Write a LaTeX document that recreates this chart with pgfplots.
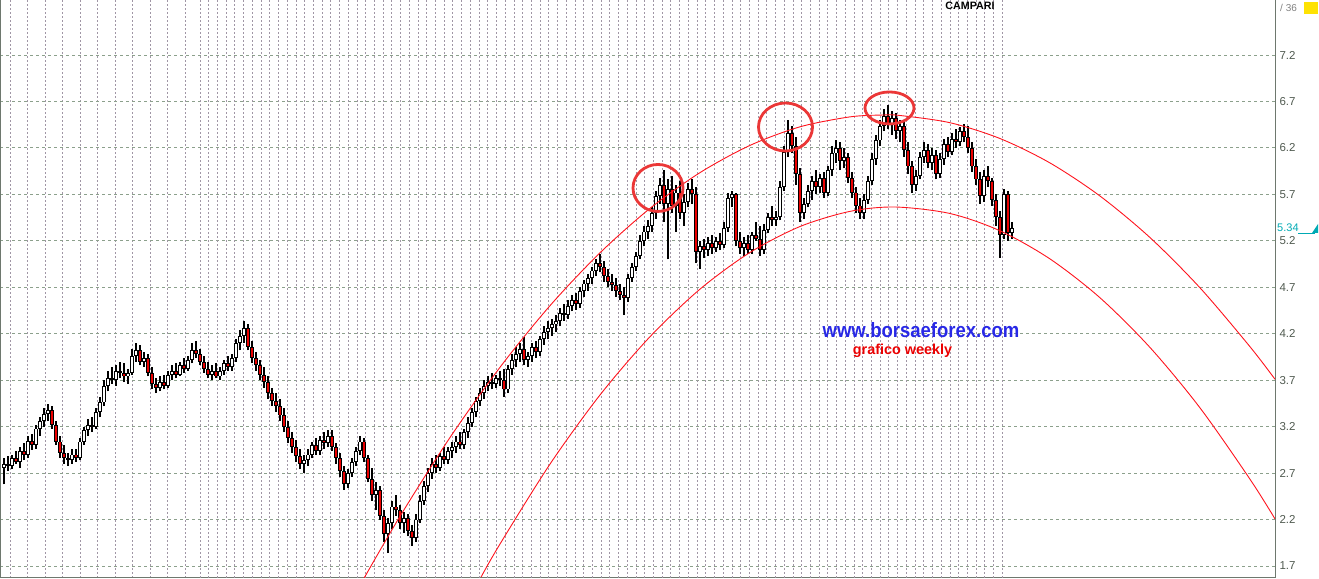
\documentclass[border=0pt]{standalone}
\usepackage{pgfplots}
\pgfplotsset{compat=1.18}
\usepackage{pgfplotstable}
\usepackage{fontspec}
\setmainfont{Liberation Sans}
\definecolor{gridg}{RGB}{140,160,140}
\definecolor{gridv}{RGB}{160,150,165}
\definecolor{cred}{RGB}{235,0,0}
\definecolor{arcred}{RGB}{255,20,30}
\definecolor{circred}{RGB}{235,55,55}
\definecolor{wblue}{RGB}{40,40,230}
\definecolor{teal2}{RGB}{0,170,180}
\definecolor{lab}{RGB}{80,90,80}
\definecolor{frame}{RGB}{110,120,110}

\pgfplotstableread{
x o h l c
4 2.76 2.86 2.58 2.80
8 2.80 2.88 2.72 2.78
12 2.78 2.90 2.74 2.86
16 2.86 2.94 2.80 2.82
20 2.82 2.98 2.76 2.94
24 2.94 3.02 2.84 2.90
28 2.90 3.10 2.86 3.05
32 3.05 3.12 2.95 3.00
36 3.00 3.22 2.96 3.18
40 3.18 3.30 3.10 3.26
44 3.26 3.40 3.20 3.34
48 3.34 3.44 3.26 3.38
52 3.38 3.42 3.18 3.22
56 3.22 3.26 3.00 3.04
60 3.04 3.10 2.86 2.92
64 2.92 3.00 2.80 2.86
68 2.86 2.92 2.78 2.84
72 2.84 2.96 2.80 2.90
76 2.90 2.96 2.82 2.86
80 2.86 3.08 2.84 3.04
84 3.04 3.20 3.00 3.16
88 3.16 3.28 3.10 3.22
92 3.22 3.30 3.14 3.20
96 3.20 3.40 3.18 3.36
100 3.36 3.52 3.30 3.46
104 3.46 3.70 3.42 3.64
108 3.64 3.80 3.58 3.72
112 3.72 3.84 3.66 3.70
116 3.70 3.86 3.64 3.80
120 3.80 3.90 3.72 3.78
124 3.78 3.88 3.68 3.74
128 3.74 3.82 3.66 3.78
132 3.78 4.04 3.76 3.96
136 3.96 4.10 3.90 4.02
140 4.02 4.08 3.86 3.90
144 3.90 4.00 3.84 3.94
148 3.94 3.98 3.74 3.78
152 3.78 3.84 3.60 3.66
156 3.66 3.72 3.56 3.62
160 3.62 3.74 3.58 3.68
164 3.68 3.76 3.60 3.64
168 3.64 3.80 3.62 3.76
172 3.76 3.86 3.70 3.80
176 3.80 3.88 3.72 3.76
180 3.76 3.90 3.74 3.86
184 3.86 3.94 3.78 3.82
188 3.82 3.96 3.80 3.92
192 3.92 4.10 3.88 4.02
196 4.02 4.12 3.94 3.98
200 3.98 4.04 3.86 3.90
204 3.90 3.96 3.78 3.82
208 3.82 3.90 3.72 3.76
212 3.76 3.86 3.70 3.80
216 3.80 3.88 3.72 3.74
220 3.74 3.84 3.70 3.80
224 3.80 3.92 3.76 3.88
228 3.88 3.96 3.80 3.84
232 3.84 3.98 3.80 3.94
236 3.94 4.14 3.90 4.10
240 4.10 4.24 4.02 4.18
244 4.18 4.34 4.10 4.26
248 4.26 4.30 4.02 4.06
252 4.06 4.12 3.88 3.94
256 3.94 4.00 3.80 3.86
260 3.86 3.92 3.70 3.76
264 3.76 3.84 3.62 3.68
268 3.68 3.74 3.50 3.56
272 3.56 3.62 3.42 3.48
276 3.48 3.56 3.36 3.42
280 3.42 3.50 3.26 3.32
284 3.32 3.40 3.14 3.20
288 3.20 3.26 3.02 3.08
292 3.08 3.14 2.92 2.98
296 2.98 3.06 2.82 2.88
300 2.88 2.96 2.74 2.80
304 2.80 2.90 2.70 2.84
308 2.84 2.96 2.78 2.90
312 2.90 3.04 2.86 3.00
316 3.00 3.08 2.90 2.94
320 2.94 3.10 2.90 3.06
324 3.06 3.14 2.96 3.02
328 3.02 3.16 2.98 3.10
332 3.10 3.16 2.94 2.98
336 2.98 3.02 2.80 2.86
340 2.86 2.92 2.66 2.72
344 2.72 2.78 2.52 2.58
348 2.58 2.74 2.54 2.70
352 2.70 2.86 2.66 2.82
356 2.82 2.98 2.78 2.94
360 2.94 3.10 2.90 3.04
364 3.04 3.08 2.82 2.86
368 2.86 2.90 2.60 2.64
372 2.64 2.76 2.40 2.46
376 2.46 2.60 2.30 2.52
380 2.52 2.56 2.20 2.24
384 2.24 2.30 1.96 2.04
388 2.04 2.22 1.84 2.16
392 2.16 2.40 2.10 2.34
396 2.34 2.46 2.24 2.30
400 2.30 2.36 2.10 2.16
404 2.16 2.28 2.06 2.22
408 2.22 2.26 2.02 2.08
412 2.08 2.14 1.92 2.00
416 2.00 2.26 1.96 2.20
420 2.20 2.46 2.16 2.40
424 2.40 2.62 2.36 2.56
428 2.56 2.76 2.50 2.70
432 2.70 2.86 2.64 2.80
436 2.80 2.90 2.70 2.76
440 2.76 2.92 2.72 2.88
444 2.88 2.98 2.80 2.84
448 2.84 2.98 2.80 2.94
452 2.94 3.04 2.86 2.98
456 2.98 3.10 2.92 3.04
460 3.04 3.14 2.96 3.00
464 3.00 3.18 2.96 3.14
468 3.14 3.30 3.08 3.24
472 3.24 3.40 3.20 3.36
476 3.36 3.52 3.30 3.48
480 3.48 3.62 3.42 3.56
484 3.56 3.70 3.50 3.64
488 3.64 3.74 3.58 3.68
492 3.68 3.78 3.60 3.66
496 3.66 3.76 3.62 3.72
500 3.72 3.80 3.64 3.70
504 3.70 3.82 3.52 3.60
508 3.60 3.86 3.56 3.82
512 3.82 3.98 3.76 3.92
516 3.92 4.06 3.84 3.98
520 3.98 4.10 3.90 4.04
524 4.04 4.16 3.86 3.92
528 3.92 4.00 3.84 3.96
532 3.96 4.10 3.90 4.06
536 4.06 4.12 3.94 4.00
540 4.00 4.18 3.96 4.14
544 4.14 4.28 4.08 4.22
548 4.22 4.34 4.14 4.26
552 4.26 4.36 4.18 4.30
556 4.30 4.40 4.22 4.34
560 4.34 4.48 4.28 4.42
564 4.42 4.52 4.34 4.40
568 4.40 4.56 4.36 4.50
572 4.50 4.62 4.44 4.56
576 4.56 4.64 4.46 4.52
580 4.52 4.70 4.48 4.66
584 4.66 4.78 4.60 4.74
588 4.74 4.84 4.66 4.80
592 4.80 4.92 4.74 4.88
596 4.88 5.00 4.82 4.96
600 4.96 5.06 4.86 4.92
604 4.92 4.98 4.76 4.82
608 4.82 4.90 4.70 4.76
612 4.76 4.84 4.66 4.72
616 4.72 4.80 4.60 4.66
620 4.66 4.74 4.56 4.62
624 4.62 4.70 4.40 4.58
628 4.58 4.84 4.54 4.80
632 4.80 4.96 4.76 4.92
636 4.92 5.08 4.88 5.04
640 5.04 5.26 5.00 5.20
644 5.20 5.36 5.14 5.30
648 5.30 5.42 5.22 5.36
652 5.36 5.56 5.30 5.50
656 5.50 5.74 5.44 5.68
660 5.68 5.88 5.60 5.80
664 5.80 5.96 5.40 5.60
668 5.60 5.86 5.00 5.76
672 5.76 5.90 5.50 5.58
676 5.58 5.80 5.30 5.72
680 5.72 5.84 5.44 5.50
684 5.50 5.70 5.36 5.62
688 5.62 5.82 5.56 5.76
692 5.76 5.86 5.60 5.70
696 5.70 5.78 4.96 5.08
700 5.08 5.20 4.90 5.14
704 5.14 5.22 5.02 5.10
708 5.10 5.24 5.04 5.18
712 5.18 5.26 5.06 5.12
716 5.12 5.24 5.08 5.20
720 5.20 5.28 5.10 5.16
724 5.16 5.40 5.12 5.34
728 5.34 5.72 5.30 5.66
732 5.66 5.74 5.56 5.70
736 5.70 5.72 5.14 5.20
740 5.20 5.30 5.06 5.12
744 5.12 5.24 5.04 5.18
748 5.18 5.26 5.06 5.10
752 5.10 5.30 5.06 5.26
756 5.26 5.40 5.20 5.22
760 5.22 5.36 5.04 5.10
764 5.10 5.38 5.06 5.32
768 5.32 5.50 5.28 5.46
772 5.46 5.58 5.36 5.42
776 5.42 5.52 5.36 5.46
780 5.46 5.84 5.42 5.78
784 5.78 6.22 5.74 6.16
788 6.16 6.50 6.10 6.36
792 6.36 6.44 6.14 6.22
796 6.22 6.32 5.80 5.92
800 5.92 5.98 5.40 5.50
804 5.50 5.66 5.44 5.60
808 5.60 5.80 5.56 5.74
812 5.74 5.90 5.64 5.84
816 5.84 5.96 5.70 5.78
820 5.78 5.92 5.72 5.88
824 5.88 5.94 5.66 5.72
828 5.72 6.00 5.68 5.96
832 5.96 6.22 5.90 6.14
836 6.14 6.28 6.04 6.20
840 6.20 6.26 5.96 6.06
844 6.06 6.20 5.98 6.10
848 6.10 6.14 5.82 5.88
852 5.88 5.94 5.66 5.72
856 5.72 5.78 5.50 5.58
860 5.58 5.66 5.44 5.50
864 5.50 5.70 5.44 5.64
868 5.64 5.90 5.60 5.84
872 5.84 6.14 5.80 6.08
876 6.08 6.34 6.02 6.28
880 6.28 6.50 6.22 6.44
884 6.44 6.62 6.38 6.54
888 6.54 6.66 6.40 6.46
892 6.46 6.60 6.34 6.52
896 6.52 6.58 6.30 6.38
900 6.38 6.50 6.26 6.44
904 6.44 6.48 6.10 6.18
908 6.18 6.26 5.92 6.00
912 6.00 6.06 5.72 5.80
916 5.80 5.96 5.74 5.90
920 5.90 6.16 5.86 6.10
924 6.10 6.26 6.04 6.18
928 6.18 6.24 5.98 6.04
932 6.04 6.20 5.96 6.12
936 6.12 6.18 5.86 5.92
940 5.92 6.14 5.88 6.08
944 6.08 6.30 6.02 6.24
948 6.24 6.32 6.10 6.16
952 6.16 6.36 6.12 6.30
956 6.30 6.40 6.20 6.26
960 6.26 6.42 6.22 6.38
964 6.38 6.46 6.26 6.32
968 6.32 6.44 6.14 6.20
972 6.20 6.26 5.94 6.00
976 6.00 6.08 5.80 5.86
980 5.86 5.94 5.60 5.68
984 5.68 5.96 5.62 5.90
988 5.90 6.00 5.78 5.84
992 5.84 5.88 5.58 5.64
996 5.64 5.70 5.36 5.46
1000 5.46 5.52 5.02 5.26
1004 5.26 5.76 5.22 5.70
1008 5.70 5.74 5.20 5.28
1012 5.28 5.40 5.22 5.34
}\candles

\begin{document}
\begin{tikzpicture}
\begin{axis}[
  at={(0,0)}, anchor=south west,
  width=1275pt, height=578pt, scale only axis,
  xmin=0, xmax=1275, ymin=1.571, ymax=7.792,
  xtick={10,27.5,...,186}, xticklabels={},
  extra x ticks={200,208.72,...,1004}, extra x tick labels={},
  extra x tick style={grid=major},
  ytick={1.7,2.2,2.7,3.2,3.7,4.2,4.7,5.2,5.7,6.2,6.7,7.2},
  yticklabel pos=right,
  /pgf/number format/assume math mode=true,
  yticklabel style={font=\fontsize{11.5}{12}\selectfont, text=lab,
    /pgf/number format/fixed, /pgf/number format/precision=1,
    /pgf/number format/fixed zerofill, xshift=1pt},
  grid=major,
  x grid style={gridv, dash pattern=on 2pt off 2pt, line width=0.8pt},
  y grid style={gridg, dash pattern=on 3pt off 3pt, line width=0.9pt},
  major tick length=0pt,
  axis line style={draw=frame, line width=1pt},
  colormap={wr}{rgb255=(255,255,255) rgb255=(235,0,0)},
  point meta min=0, point meta max=1,
  clip=true,
]
% wicks
\addplot[black, line width=1.3pt, quiver={u=0, v=\thisrow{h}-\thisrow{l}}]
  table[x=x, y=l] {\candles};
% body outlines
\addplot[black, line width=4.2pt, quiver={u=0, v={abs(\thisrow{c}-\thisrow{o})}}]
  table[x=x, y expr={min(\thisrow{o},\thisrow{c})}] {\candles};
% body fills
\addplot[line width=2pt, point meta={\thisrow{c}<\thisrow{o}},
  quiver={u=0, v={abs(\thisrow{c}-\thisrow{o})-0.02}, colored=mapped color}]
  table[x=x, y expr={min(\thisrow{o},\thisrow{c})+0.01}] {\candles};

% upper arc
\addplot[arcred, line width=0.9pt, smooth] coordinates {
(364,1.568) (400,2.235) (450,3.083) (500,3.839) (550,4.502) (600,5.071)
(650,5.549) (700,5.934) (750,6.227) (800,6.427) (850,6.534) (883,6.554)
(900,6.549) (950,6.471) (1000,6.301) (1050,6.038) (1100,5.682) (1150,5.235)
(1200,4.694) (1250,4.060) (1275,3.710)};
% lower arc
\addplot[arcred, line width=0.9pt, smooth] coordinates {
(481,1.580) (500,1.937) (550,2.797) (600,3.541) (650,4.168) (700,4.680)
(750,5.075) (800,5.354) (850,5.517) (895,5.564) (950,5.494) (1000,5.308)
(1050,5.005) (1100,4.587) (1150,4.052) (1200,3.402) (1250,2.634) (1275,2.207)};

\draw[circred, line width=2.8pt] (axis cs:658,5.769) ellipse [x radius=25pt, y radius=23.5pt];
\draw[circred, line width=2.8pt] (axis cs:785.5,6.425) ellipse [x radius=27pt, y radius=24pt];
\draw[circred, line width=2.8pt] (axis cs:889.5,6.630) ellipse [x radius=24.5pt, y radius=16pt];

\node[font=\bfseries\fontsize{18.5}{20}\selectfont, text=wblue, inner sep=0, yscale=1.12] at (axis cs:921,4.24) {www.borsaeforex.com};
\node[font=\bfseries\fontsize{14.4}{16}\selectfont, text=cred, inner sep=0] at (axis cs:902.5,4.014) {grafico weekly};
\node[font=\bfseries\fontsize{10.7}{12}\selectfont, inner sep=0] at (axis cs:970,7.727) {CAMPARI};
\end{axis}
% right-side decorations
\node[font=\fontsize{11}{12}\selectfont, text=teal2, anchor=west, inner sep=0] at (1277pt,350pt) {5.34};
\draw[teal2, line width=0.8pt] (1298pt,345pt) -- (1315pt,345pt);
\fill[teal2] (1312pt,345pt) -- (1318pt,345pt) -- (1318pt,354pt) -- cycle;
\node[font=\fontsize{10}{11}\selectfont, text=gray, anchor=west, inner sep=0] at (1280pt,570pt) {/ 36};
\fill[yellow!85!orange] (1304pt,564pt) rectangle (1318pt,576pt);
\pgfresetboundingbox
\path[use as bounding box] (0,0) rectangle (1319pt,578pt);
\end{tikzpicture}
\end{document}
